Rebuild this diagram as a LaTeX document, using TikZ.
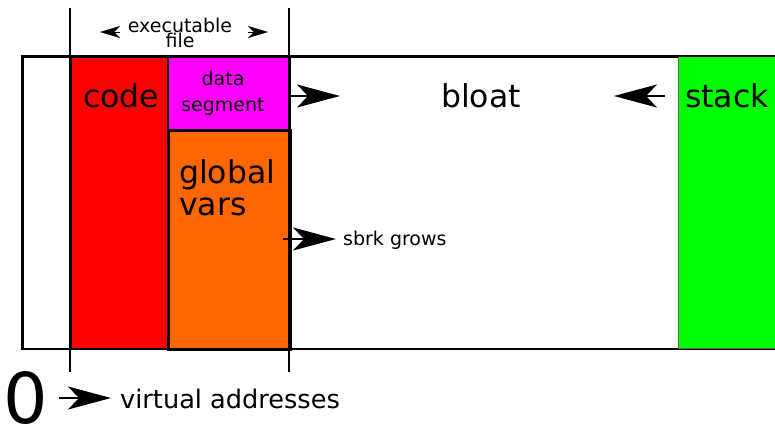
\documentclass[tikz,border=0pt]{standalone}
\usepackage{fontspec}
\setmainfont{DejaVu Sans}
\usetikzlibrary{arrows.meta}
\definecolor{codered}{RGB}{255,0,0}
\definecolor{datamag}{RGB}{255,0,255}
\definecolor{globor}{RGB}{255,102,0}
\definecolor{stackgr}{RGB}{0,255,0}
\tikzset{
  region/.style={draw=black, line width=1.6pt},
  bigtext/.style={font=\fontsize{31.5}{37}\selectfont, inner sep=0pt, anchor=base},
  bigarrow/.style={line width=1.6pt, -{Stealth[length=43pt,width=23pt,inset=11pt]}},
  smallhead/.style={line width=0.6pt, -{Stealth[length=20pt,width=12pt,inset=6pt]}},
  tick/.style={line width=1.6pt}
}
\begin{document}
\begin{tikzpicture}[x=1pt,y=-1pt]
\useasboundingbox (0,0) rectangle (775,424);
% outer frame
\node[region, fill=white, minimum width=753pt, minimum height=292pt, inner sep=0pt, anchor=north west] (mem) at (22,56) {};
% regions
\node[region, fill=codered, minimum width=97pt, minimum height=292pt, inner sep=0pt, anchor=north west] (code) at (70,56) {};
\node[region, fill=datamag, minimum width=122pt, minimum height=73pt, inner sep=0pt, anchor=north west] (data) at (167,56) {};
\node[draw=black, line width=2.6pt, fill=globor, minimum width=122pt, minimum height=219pt, inner sep=0pt, anchor=north west] (glob) at (167,129) {};
\node[draw=black!60, line width=1pt, fill=stackgr, minimum width=97pt, minimum height=292pt, inner sep=0pt, anchor=north west] (stack) at (678,56) {};
% redraw frame border on top
\draw[line width=1.6pt] (mem.north west) rectangle (mem.south east);
\draw[line width=1.6pt] (code.north east) -- (code.south east);
% executable file ticks
\coordinate (t1a) at (70,8);
\coordinate (t1b) at (70,372);
\coordinate (t2a) at (289,8);
\coordinate (t2b) at (289,372);
\draw[tick] (t1a) -- (t1b);
\draw[tick] (t2a) -- (t2b);
% texts
\node[bigtext] (codet) at (121,107) {code};
\node[bigtext] (bloat) at (481,107) {bloat};
\node[bigtext] (stackt) at (727,107) {stack};
\node[bigtext, anchor=base west] (glob1) at (179,183) {global};
\node[bigtext, anchor=base west] (glob2) at (179,215) {vars};
\node[font=\fontsize{19}{22}\selectfont, inner sep=0pt, anchor=base] (data1) at (223,85) {data};
\node[font=\fontsize{19}{22}\selectfont, inner sep=0pt, anchor=base] (data2) at (223,111) {segment};
\node[font=\fontsize{19}{22}\selectfont, inner sep=0pt, anchor=base] (exe1) at (180,32) {executable};
\node[font=\fontsize{19}{22}\selectfont, inner sep=0pt, anchor=base] (exe2) at (180,47) {file};
\node[font=\fontsize{19}{22}\selectfont, inner sep=0pt, anchor=base west] (sbrk) at (343,245) {sbrk grows};
\node[font=\fontsize{25.6}{30}\selectfont, inner sep=0pt, anchor=base west] (virt) at (120,408) {virtual addresses};
\node[font=\fontsize{70}{72}\selectfont, inner sep=0pt, anchor=base] (zero) at (26,423) {0};
% arrows
\coordinate (a1s) at (289,96);
\coordinate (a1e) at (340,96);
\draw[bigarrow] (a1s) -- (a1e);
\coordinate (a2s) at (665,96);
\coordinate (a2e) at (614,96);
\draw[bigarrow] (a2s) -- (a2e);
\coordinate (a3s) at (283,239);
\coordinate (a3e) at (336,239);
\draw[bigarrow] (a3s) -- (a3e);
\coordinate (a4s) at (59,398);
\coordinate (a4e) at (111,398);
\draw[bigarrow] (a4s) -- (a4e);
\coordinate (e1s) at (120,32);
\coordinate (e1e) at (100,32);
\draw[smallhead] (e1s) -- (e1e);
\coordinate (e2s) at (248,32);
\coordinate (e2e) at (268,32);
\draw[smallhead] (e2s) -- (e2e);
\end{tikzpicture}
\end{document}
